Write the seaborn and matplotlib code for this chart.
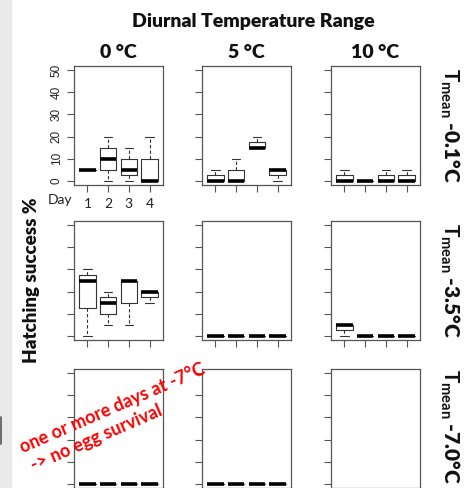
import numpy as np
import pandas as pd
import matplotlib
matplotlib.use('Agg')
import matplotlib.pyplot as plt
import seaborn as sns
from matplotlib.patches import Rectangle
from matplotlib.lines import Line2D

# hatching success (%) of five replicates per day
days = [1, 2, 3, 4]
dtr_labels = ['0 °C', '5 °C', '10 °C']
tmean_labels = ['-0.1°C', '-3.5°C', '-7.0°C']

# Tmean -0.1 °C
m01_dtr0 = [[5, 5, 5, 5, 5], [0, 5, 10, 15, 20], [0, 2.5, 5, 10, 15], [0, 0, 0, 10, 20]]
m01_dtr5 = [[0, 0, 0, 2.5, 5], [0, 0, 0, 5, 10], [15, 15, 15, 17.5, 20], [0, 2.5, 5, 5, 5]]
m01_dtr10 = [[0, 0, 0, 2.5, 5], [0, 0, 0, 0, 0], [0, 0, 0, 2.5, 5], [0, 0, 0, 2.5, 5]]
# Tmean -3.5 °C
m35_dtr0 = [[0, 12.5, 25, 27.5, 30], [5, 10, 15, 17.5, 20], [5, 15, 25, 25, 25], [15, 17.5, 20, 20, 20]]
m35_dtr5 = [[0, 0, 0, 0, 0]] * 4
m35_dtr10 = [[0, 2.5, 5, 5, 5], [0, 0, 0, 0, 0], [0, 0, 0, 0, 0], [0, 0, 0, 0, 0]]
# Tmean -7.0 °C
m70_dtr0 = [[0, 0, 0, 0, 0]] * 4
m70_dtr5 = [[0, 0, 0, 0, 0]] * 4
m70_dtr10 = []  # no data

panels = [[m01_dtr0, m01_dtr5, m01_dtr10],
          [m35_dtr0, m35_dtr5, m35_dtr10],
          [m70_dtr0, m70_dtr5, m70_dtr10]]

rows = []
for i, tm in enumerate(tmean_labels):
    for j, dr in enumerate(dtr_labels):
        for d, vals in zip(days, panels[i][j]):
            for v in vals:
                rows.append({'tmean': tm, 'dtr': dr, 'day': d, 'hatch': v})
df = pd.DataFrame(rows)

sns.set_theme(style='white')
plt.rcParams['font.family'] = ['Lato', 'DejaVu Sans']
plt.rcParams['mathtext.fontset'] = 'custom'
plt.rcParams['mathtext.rm'] = 'Lato'
plt.rcParams['mathtext.bf'] = 'Lato:bold'

W, H = 473, 488
fig = plt.figure(figsize=(W / 100, H / 100), dpi=100)
fig.patch.set_facecolor('white')


def fx(x):
    return x / W


def fy(y):
    return 1 - y / H


# screenshot strip on the left
fig.patches.append(Rectangle((0, 0), fx(11), 1, transform=fig.transFigure,
                             color='#e9e9e9', zorder=0))
fig.lines.append(Line2D([fx(0.7), fx(0.7)], [fy(417), fy(444)], transform=fig.transFigure,
                        color='#555555', lw=1.2))

col_left = [74, 202, 331]
row_top = [66, 221, 369]
pw, ph = 89, 119
frame = '#555555'

for i, tm in enumerate(tmean_labels):
    for j, dr in enumerate(dtr_labels):
        ax = fig.add_axes([fx(col_left[j]), fy(row_top[i] + ph), pw / W, ph / H])
        sub = df[(df['tmean'] == tm) & (df['dtr'] == dr)]
        if len(sub):
            sns.boxplot(data=sub, x='day', y='hatch', order=days, ax=ax,
                        width=0.8, fill=False, color='#333333', linewidth=0.8,
                        whis=1.5, fliersize=0,
                        medianprops={'color': 'black', 'linewidth': 2.6},
                        whiskerprops={'linestyle': (0, (3, 2))})
        ax.set_xlim(-0.65, 3.65)
        ax.set_ylim(-2, 52)
        ax.set_xticks(range(len(days)))
        ax.set_yticks([0, 10, 20, 30, 40, 50])
        ax.set_xlabel('')
        ax.set_ylabel('')
        ax.tick_params(direction='out', length=5, width=0.8, color=frame,
                       labelsize=9, pad=2, left=True, bottom=True)
        for s in ax.spines.values():
            s.set_color(frame)
            s.set_linewidth(0.9)
        if i == 0 and j == 0:
            ax.set_xticklabels([str(d) for d in days], fontsize=10, color='#222222')
            ax.tick_params(axis='x', pad=4)
            ax.set_yticklabels(['0', '10', '20', '30', '40', '50'], rotation=90, va='center',
                               family='Liberation Sans', fontsize=8.5, color='#222222')
            ax.tick_params(axis='y', pad=3)
            ax.text(-0.02, -0.13, 'Day', transform=ax.transAxes, ha='right', va='center',
                    fontsize=10, color='#222222')
        else:
            ax.set_xticklabels([])
            ax.set_yticklabels([])

# headers
fig.text(fx(253), fy(22), 'Diurnal Temperature Range', ha='center', va='center',
         fontsize=14, fontweight='heavy', color='#111111')
for j, dr in enumerate(dtr_labels):
    fig.text(fx(col_left[j] + pw / 2), fy(52), dr, ha='center', va='center',
             fontsize=14, fontweight='heavy', color='#111111')

for i, tm in enumerate(tmean_labels):
    fig.text(fx(450), fy(row_top[i] + ph / 2 if i < 2 else 427),
             r'$\mathbf{T}_{\mathbf{mean}}$ ' + tm, rotation=270,
             ha='center', va='center', fontsize=15, fontweight='heavy', color='#111111')

fig.text(fx(32), fy(280), 'Hatching success %', rotation=90, ha='center', va='center',
         fontsize=13.5, fontweight='heavy', color='#111111')

# red note, two lines written along the same slope
note_angle = 23.5
fig.text(fx(23), fy(453), 'one or more days at -7°C', rotation=note_angle,
         rotation_mode='anchor', ha='left', va='baseline', zorder=10,
         fontsize=13, fontweight='bold', color='red')
fig.text(fx(34), fy(471), '-> no egg survival', rotation=note_angle,
         rotation_mode='anchor', ha='left', va='baseline', zorder=10,
         fontsize=13, fontweight='bold', color='red')

fig.savefig('out.png', dpi=100)
